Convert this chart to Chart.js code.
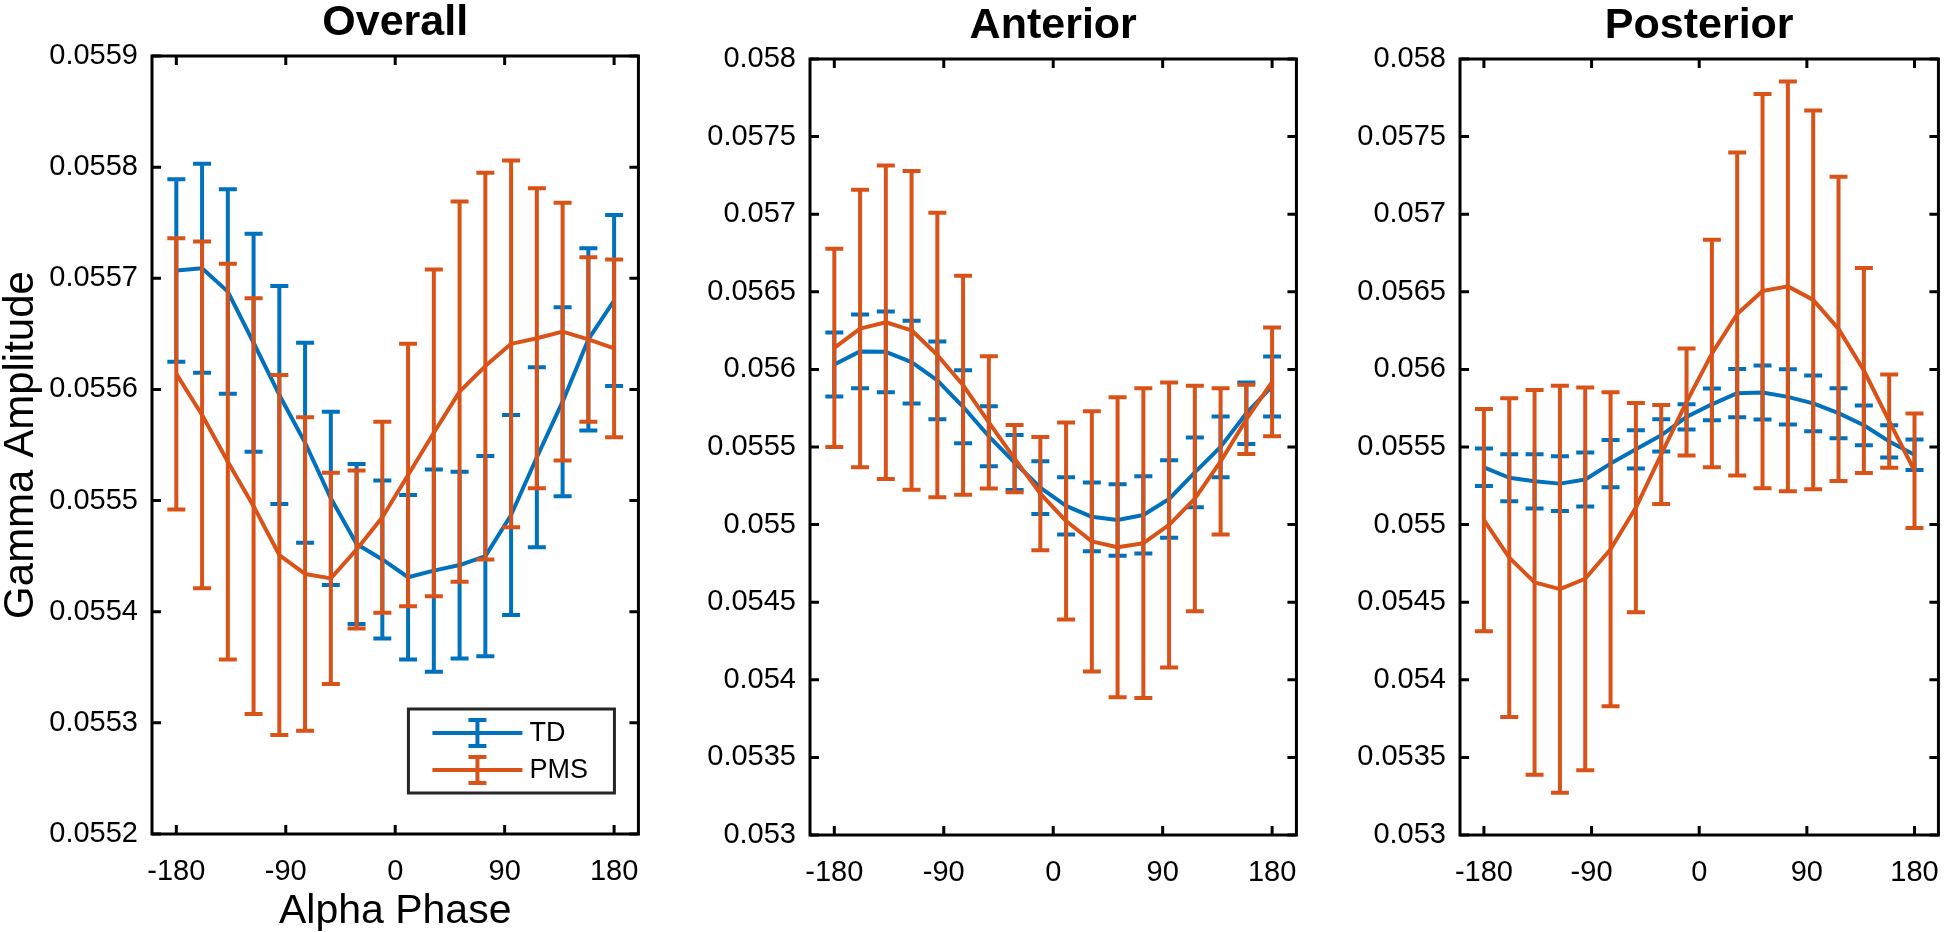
<!DOCTYPE html>
<html>
<head>
<meta charset="utf-8">
<title>Gamma amplitude by alpha phase</title>
<script src="https://cdn.jsdelivr.net/npm/chart.js@4.4.1/dist/chart.umd.min.js"></script>
<style>
  body { margin: 0; background: #fff; }
  #wrap { position: relative; width: 1960px; height: 932px; overflow: hidden; }
  canvas { position: absolute; top: 0; }
</style>
</head>
<body>
<div id="wrap">
  <canvas id="overall" width="660" height="932" style="left:0px"></canvas>
  <canvas id="anterior" width="658" height="932" style="left:660px"></canvas>
  <canvas id="posterior" width="642" height="932" style="left:1318px"></canvas>
</div>
<script>
// alpha phase bins (deg)
const phase = [-180, -158.82, -137.65, -116.47, -95.29, -74.12, -52.94, -31.76, -10.59,
               10.59, 31.76, 52.94, 74.12, 95.29, 116.47, 137.65, 158.82, 180];
const phaseTicks = [-180, -90, 0, 90, 180];

// Overall
const tdOverall = [0.055707, 0.055709, 0.055688, 0.055642, 0.055595, 0.055552, 0.055502, 0.055461, 0.055447,
                   0.055431, 0.055437, 0.055442, 0.055450, 0.055487, 0.055539, 0.055589, 0.055645, 0.055680];
const tdOverallErr = [0.000082, 0.000094, 0.000092, 0.000098, 0.000098, 0.000090, 0.000078, 0.000072, 0.000071,
                      0.000074, 0.000091, 0.000084, 0.000090, 0.000090, 0.000081, 0.000085, 0.000082, 0.000077];
const pmsOverall = [0.055614, 0.055577, 0.055535, 0.055495, 0.055451, 0.055434, 0.055430, 0.055456, 0.055485,
                    0.055523, 0.055561, 0.055598, 0.055621, 0.055641, 0.055646, 0.055652, 0.055645, 0.055637];
const pmsOverallErr = [0.000122, 0.000156, 0.000178, 0.000187, 0.000162, 0.000141, 0.000095, 0.000071, 0.000086,
                       0.000118, 0.000147, 0.000171, 0.000174, 0.000165, 0.000135, 0.000116, 0.000074, 0.000080];
const overallTicks = [0.0552, 0.0553, 0.0554, 0.0555, 0.0556, 0.0557, 0.0558, 0.0559];

// Anterior
const tdAnterior = [0.056032, 0.056116, 0.056113, 0.056047, 0.055929, 0.055759, 0.055569, 0.055400, 0.055238,
                    0.055121, 0.055050, 0.055030, 0.055062, 0.055165, 0.055337, 0.055501, 0.055718, 0.055890];
const tdAnteriorErr = [0.000206, 0.000238, 0.000260, 0.000266, 0.000251, 0.000235, 0.000193, 0.000177, 0.000170,
                       0.000184, 0.000222, 0.000230, 0.000249, 0.000249, 0.000225, 0.000196, 0.000198, 0.000193];
const pmsAnterior = [0.056139, 0.056263, 0.056304, 0.056252, 0.056093, 0.055898, 0.055658, 0.055425, 0.055200,
                     0.055023, 0.054892, 0.054854, 0.054880, 0.054998, 0.055168, 0.055407, 0.055678, 0.055920];
const pmsAnteriorErr = [0.000639, 0.000894, 0.001010, 0.001027, 0.000917, 0.000705, 0.000426, 0.000217, 0.000365,
                        0.000635, 0.000838, 0.000966, 0.000998, 0.000918, 0.000727, 0.000471, 0.000223, 0.000350];

// Posterior
const tdPosterior = [0.055369, 0.055302, 0.055279, 0.055264, 0.055291, 0.055393, 0.055485, 0.055575, 0.055694,
                     0.055775, 0.055847, 0.055851, 0.055823, 0.055781, 0.055718, 0.055640, 0.055536, 0.055450];
const tdPosteriorErr = [0.000121, 0.000152, 0.000175, 0.000177, 0.000174, 0.000152, 0.000123, 0.000104, 0.000081,
                        0.000102, 0.000155, 0.000174, 0.000178, 0.000179, 0.000161, 0.000128, 0.000104, 0.000099];
const pmsPosterior = [0.055029, 0.054787, 0.054628, 0.054584, 0.054651, 0.054841, 0.055110, 0.055452, 0.055790,
                      0.056102, 0.056357, 0.056505, 0.056535, 0.056448, 0.056261, 0.055993, 0.055667, 0.055347];
const pmsPosteriorErr = [0.000716, 0.001027, 0.001240, 0.001311, 0.001233, 0.001011, 0.000674, 0.000319, 0.000345,
                         0.000733, 0.001040, 0.001270, 0.001320, 0.001220, 0.000980, 0.000660, 0.000300, 0.000369];
const regionTicks = [0.053, 0.0535, 0.054, 0.0545, 0.055, 0.0555, 0.056, 0.0565, 0.057, 0.0575, 0.058];

const FONT = "'Liberation Sans', Arial, Helvetica, sans-serif";
const BLUE = '#0072BD';
const ORANGE = '#D95319';
const LW = 4; // data line / errorbar width

// vertical error bars with caps, drawn right after each dataset's line
const errorBars = {
  id: 'errorBars',
  afterDatasetDraw(chart, args) {
    const ds = chart.data.datasets[args.index];
    if (!ds.errors) return;
    const ctx = chart.ctx;
    const xs = chart.scales.x, ys = chart.scales.y;
    const a = chart.chartArea;
    ctx.save();
    ctx.beginPath();
    ctx.rect(a.left, a.top, a.right - a.left, a.bottom - a.top);
    ctx.clip();
    ctx.strokeStyle = ds.borderColor;
    ctx.lineWidth = LW;
    ds.data.forEach((p, i) => {
      const x = xs.getPixelForValue(p.x);
      const top = ys.getPixelForValue(p.y + ds.errors[i]);
      const bot = ys.getPixelForValue(p.y - ds.errors[i]);
      ctx.beginPath();
      ctx.moveTo(x, top); ctx.lineTo(x, bot);
      ctx.moveTo(x - 9, top); ctx.lineTo(x + 9, top);
      ctx.moveTo(x - 9, bot); ctx.lineTo(x + 9, bot);
      ctx.stroke();
    });
    ctx.restore();
  }
};

// matlab style box, inward ticks on all sides, and the bold title
const axesBox = {
  id: 'axesBox',
  afterDatasetsDraw(chart, args, o) {
    const ctx = chart.ctx;
    const a = chart.chartArea;
    const xs = chart.scales.x, ys = chart.scales.y;
    ctx.save();
    ctx.strokeStyle = '#000';
    ctx.lineWidth = 3;
    ctx.beginPath();
    xs.ticks.forEach(t => {
      const px = xs.getPixelForValue(t.value);
      ctx.moveTo(px, a.bottom); ctx.lineTo(px, a.bottom - 9);
      ctx.moveTo(px, a.top); ctx.lineTo(px, a.top + 9);
    });
    ys.ticks.forEach(t => {
      const py = ys.getPixelForValue(t.value);
      ctx.moveTo(a.left, py); ctx.lineTo(a.left + 9, py);
      ctx.moveTo(a.right, py); ctx.lineTo(a.right - 9, py);
    });
    ctx.stroke();
    ctx.strokeRect(a.left, a.top, a.right - a.left, a.bottom - a.top);

    ctx.fillStyle = '#000';
    ctx.font = 'bold 43px ' + FONT;
    ctx.textAlign = 'center';
    ctx.textBaseline = 'alphabetic';
    ctx.fillText(o.text, (a.left + a.right) / 2, a.top - 21);
    ctx.restore();
  }
};

// legend box with errorbar icons (only on the first panel)
const errLegend = {
  id: 'errLegend',
  afterDraw(chart, args, o) {
    if (!o.show) return;
    const ctx = chart.ctx;
    const a = chart.chartArea;
    const w = 206, h = 84;
    const bx = a.right - 24 - w, by = a.bottom - 41 - h;
    ctx.save();
    ctx.fillStyle = '#fff';
    ctx.fillRect(bx, by, w, h);
    ctx.strokeStyle = '#262626';
    ctx.lineWidth = 3;
    ctx.strokeRect(bx, by, w, h);
    ctx.font = '27px ' + FONT;
    ctx.textBaseline = 'middle';
    ctx.textAlign = 'left';
    chart.data.datasets.forEach((ds, i) => {
      const ry = by + 24 + i * 37;
      ctx.strokeStyle = ds.borderColor;
      ctx.lineWidth = LW;
      ctx.beginPath();
      ctx.moveTo(bx + 24, ry); ctx.lineTo(bx + 114, ry);
      ctx.moveTo(bx + 69, ry - 13); ctx.lineTo(bx + 69, ry + 13);
      ctx.moveTo(bx + 60, ry - 13); ctx.lineTo(bx + 78, ry - 13);
      ctx.moveTo(bx + 60, ry + 13); ctx.lineTo(bx + 78, ry + 13);
      ctx.stroke();
      ctx.fillStyle = '#000';
      ctx.fillText(ds.label, bx + 121, ry + 1);
    });
    ctx.restore();
  }
};

function makePanel(id, name, td, tdErr, pms, pmsErr, yMin, yMax, yTicks, box) {
  const pts = vals => vals.map((v, i) => ({ x: phase[i], y: v }));
  return new Chart(document.getElementById(id), {
    type: 'line',
    data: {
      datasets: [
        { label: 'TD', data: pts(td), errors: tdErr, borderColor: BLUE, order: 2 },
        { label: 'PMS', data: pts(pms), errors: pmsErr, borderColor: ORANGE, order: 1 }
      ]
    },
    options: {
      responsive: false,
      animation: false,
      events: [],
      layout: { padding: { top: box.top, right: box.right, left: 0, bottom: 0 } },
      elements: {
        point: { radius: 0 },
        line: { tension: 0, borderWidth: LW, fill: false, borderJoinStyle: 'round' }
      },
      plugins: {
        legend: { display: false },
        tooltip: { enabled: false },
        axesBox: { text: name },
        errLegend: { show: box.legend }
      },
      scales: {
        x: {
          type: 'linear',
          min: -200,
          max: 200,
          afterBuildTicks: s => { s.ticks = phaseTicks.map(v => ({ value: v })); },
          afterFit: s => { s.height = box.xHeight; },
          grid: { display: false, drawTicks: false },
          border: { display: false },
          ticks: { font: { family: FONT, size: 29 }, color: '#000', padding: 21, maxRotation: 0, autoSkip: false },
          title: {
            display: !!box.xTitle,
            text: box.xTitle || '',
            font: { family: FONT, size: 41, lineHeight: 1 },
            color: '#000',
            padding: 0
          }
        },
        y: {
          type: 'linear',
          min: yMin,
          max: yMax,
          afterBuildTicks: s => { s.ticks = yTicks.map(v => ({ value: v })); },
          afterFit: s => { s.width = box.yWidth; },
          grid: { display: false, drawTicks: false },
          border: { display: false },
          ticks: {
            font: { family: FONT, size: 29 }, color: '#000', padding: 14, autoSkip: false,
            callback: v => String(v)
          },
          title: {
            display: !!box.yTitle,
            text: box.yTitle || '',
            font: { family: FONT, size: 42, lineHeight: 1 },
            color: '#000',
            padding: 0
          }
        }
      }
    },
    plugins: [errorBars, axesBox, errLegend]
  });
}

makePanel('overall', 'Overall', tdOverall, tdOverallErr, pmsOverall, pmsOverallErr,
  0.0552, 0.0559, overallTicks,
  { top: 56, right: 14, xHeight: 98, yWidth: 152, xTitle: 'Alpha Phase', yTitle: 'Gamma Amplitude', legend: true });

makePanel('anterior', 'Anterior', tdAnterior, tdAnteriorErr, pmsAnterior, pmsAnteriorErr,
  0.053, 0.058, regionTicks,
  { top: 59, right: 14, xHeight: 97, yWidth: 150, legend: false });

makePanel('posterior', 'Posterior', tdPosterior, tdPosteriorErr, pmsPosterior, pmsPosteriorErr,
  0.053, 0.058, regionTicks,
  { top: 59, right: 6, xHeight: 97, yWidth: 142, legend: false });
</script>
</body>
</html>
